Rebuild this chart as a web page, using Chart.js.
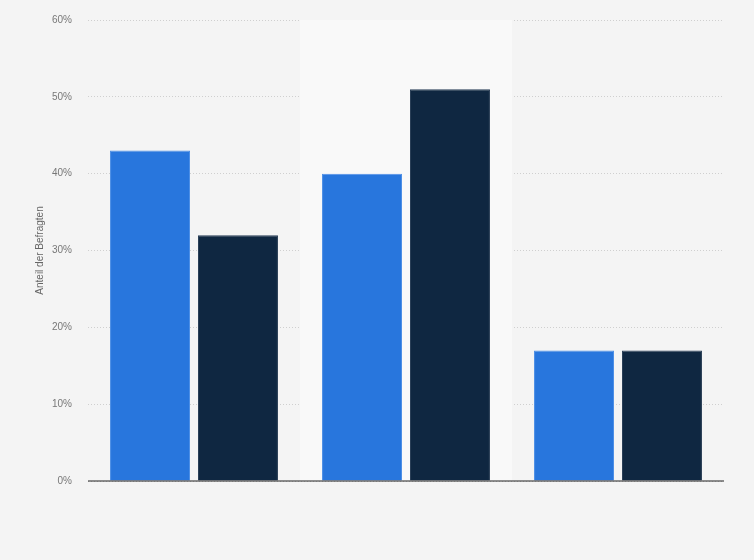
<!DOCTYPE html>
<html>
<head>
<meta charset="utf-8">
<script src="https://cdn.jsdelivr.net/npm/chart.js@4"></script>
<style>
  html, body { margin: 0; padding: 0; background: #f4f4f4; }
  #wrap { width: 754px; height: 560px; }
</style>
</head>
<body>
<div id="wrap"><canvas id="chart"></canvas></div>
<script>
const categories = ["A", "B", "C"]
const seriesA = [43, 40, 17]
const seriesB = [32, 51, 17]
const yTicks = [0, 10, 20, 30, 40, 50, 60]
const highlighted = 1

// Hellere Fläche hinter der hervorgehobenen Kategorie und die Nulllinie
const decor = {
  id: "decor",
  beforeDatasetsDraw(chart) {
    const { ctx, chartArea, scales } = chart
    const x = scales.x
    const half = (x.getPixelForValue(1) - x.getPixelForValue(0)) / 2
    const cx = x.getPixelForValue(highlighted)
    ctx.save()
    ctx.fillStyle = "#f9f9f9"
    ctx.fillRect(cx - half, chartArea.top, half * 2, chartArea.bottom - chartArea.top)
    ctx.restore()
  },
  afterDatasetsDraw(chart) {
    const { ctx, chartArea, scales } = chart
    const y0 = scales.y.getPixelForValue(0)
    ctx.save()
    ctx.strokeStyle = "#222222"
    ctx.lineWidth = 1.2
    ctx.beginPath()
    ctx.moveTo(chartArea.left, y0)
    ctx.lineTo(chartArea.right, y0)
    ctx.stroke()
    ctx.restore()
  }
}

new Chart(document.getElementById("chart"), {
  type: "bar",
  data: {
    labels: categories,
    datasets: [
      { data: seriesA, backgroundColor: "#2876dd", borderColor: "#4d8fe6", borderWidth: 1 },
      { data: seriesB, backgroundColor: "#0f2741", borderColor: "#2a3f57", borderWidth: 1 }
    ]
  },
  options: {
    responsive: true,
    maintainAspectRatio: false,
    animation: false,
    categoryPercentage: 0.83,
    barPercentage: 0.909,
    layout: { padding: { top: 20, right: 30, bottom: 79, left: 34 } },
    plugins: { legend: { display: false }, tooltip: { enabled: false } },
    scales: {
      x: { display: false },
      y: {
        min: 0,
        max: 60,
        afterBuildTicks: (scale) => { scale.ticks = yTicks.map((v) => ({ value: v })) },
        afterFit: (scale) => {
          scale.width = 54
          scale.paddingTop = 0
          scale.paddingBottom = 0
        },
        grid: { color: "#cfcfcf", drawTicks: false },
        border: { display: false, dash: [1, 2] },
        ticks: {
          padding: 16,
          color: "#777",
          font: { family: "Liberation Sans", size: 10 },
          callback: (v) => v + "%"
        },
        title: {
          display: true,
          text: "Anteil der Befragten",
          color: "#666",
          font: { family: "Liberation Sans", size: 10 },
          padding: { top: 0, bottom: 6 }
        }
      }
    }
  },
  plugins: [decor]
})
</script>
</body>
</html>
